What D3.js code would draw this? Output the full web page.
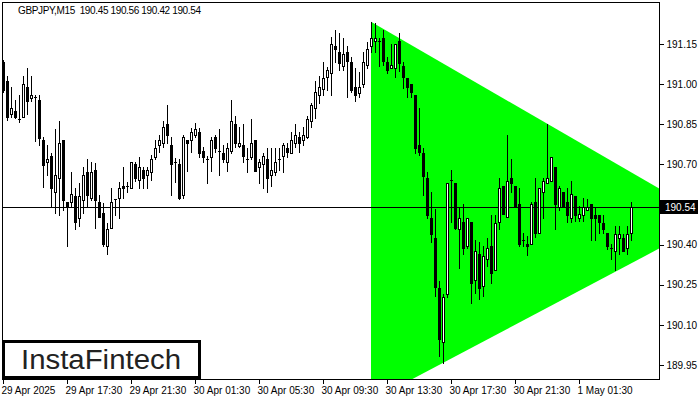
<!DOCTYPE html>
<html>
<head>
<meta charset="utf-8">
<script src="https://cdn.jsdelivr.net/npm/d3@7"></script>
<style>
html,body{margin:0;padding:0;background:#fff;}
svg{display:block;}
text{font-family:"Liberation Sans",Arial,sans-serif;}
</style>
</head>
<body>
<svg id="chart" width="700" height="400"></svg>
<script>
const symbolTitle = "GBPJPY,M15  190.45 190.56 190.42 190.54";
const opens = [
191.083,191.011,190.888,190.899,190.869,190.876,190.989,190.948,190.951,190.940,
190.790,190.708,190.730,190.595,190.648,190.790,190.558,190.558,190.580,190.498,
190.565,190.670,190.576,190.678,190.558,190.520,190.396,190.464,190.569,190.576,
190.618,190.618,190.610,190.700,190.640,190.678,190.659,190.670,190.726,190.771,
190.779,190.850,190.771,190.708,190.700,190.584,190.790,190.790,190.809,190.820,
190.749,190.719,190.726,190.801,190.749,190.741,190.708,190.749,190.850,190.768,
190.771,190.719,190.726,190.790,190.689,190.700,190.719,190.659,190.670,190.719,
190.730,190.760,190.741,190.779,190.801,190.790,190.801,190.861,190.910,190.959,
190.981,191.026,191.041,191.143,191.120,191.068,191.120,191.083,190.989,190.966,
191.000,191.071,191.143,191.161,191.161,191.173,191.083,191.060,191.060,191.161,
191.068,191.023,191.000,190.959,190.771,190.741,190.648,190.498,190.426,190.239,
190.036,190.216,190.640,190.629,190.460,190.486,190.396,190.486,190.269,190.366,
190.246,190.348,190.396,190.306,190.486,190.618,190.505,190.648,190.618,190.550,
190.419,190.404,190.404,190.558,190.445,190.595,190.629,190.636,190.689,190.539,
190.595,190.558,190.498,190.580,190.498,190.509,190.528,190.550,190.509,190.509,
190.479,190.445,190.389,190.378,190.426,190.426,190.389,190.445];
const highs = [
191.090,191.030,190.989,190.940,190.959,191.030,191.060,191.030,190.959,190.959,
190.801,190.771,190.741,190.831,190.861,190.790,190.558,190.670,190.610,190.629,
190.689,190.719,190.708,190.704,190.584,190.554,190.479,190.610,190.569,190.633,
190.689,190.633,190.708,190.708,190.726,190.689,190.689,190.734,190.790,190.809,
190.861,190.921,190.801,190.723,190.719,190.809,190.790,190.835,190.854,190.835,
190.764,190.730,190.801,190.809,190.831,190.771,190.779,190.940,190.880,190.839,
190.850,190.760,190.869,190.790,190.719,190.741,190.760,190.760,190.760,190.760,
190.779,190.779,190.820,190.850,190.820,190.839,190.880,190.929,191.011,191.030,
191.083,191.064,191.176,191.203,191.191,191.173,191.143,191.101,191.060,191.045,
191.120,191.158,191.233,191.229,191.173,191.203,191.101,191.150,191.150,191.191,
191.083,191.023,191.000,190.959,190.910,190.760,190.670,190.595,190.535,190.265,
190.216,190.629,190.678,190.629,190.539,190.550,190.498,190.486,190.419,190.408,
190.396,190.426,190.509,190.509,190.648,190.618,190.809,190.719,190.618,190.610,
190.445,190.434,190.558,190.648,190.610,190.648,190.850,190.726,190.689,190.618,
190.595,190.610,190.636,190.580,190.546,190.576,190.569,190.550,190.539,190.509,
190.509,190.445,190.404,190.468,190.468,190.438,190.468,190.558];
const lows = [
190.970,190.865,190.876,190.873,190.858,190.876,190.888,190.936,190.786,190.771,
190.614,190.659,190.539,190.520,190.509,190.528,190.396,190.539,190.460,190.468,
190.520,190.539,190.565,190.464,190.505,190.396,190.366,190.464,190.509,190.498,
190.576,190.595,190.610,190.636,190.610,190.610,190.610,190.640,190.719,190.745,
190.764,190.779,190.584,190.633,190.569,190.576,190.674,190.745,190.801,190.726,
190.708,190.629,190.674,190.745,190.659,190.708,190.674,190.741,190.764,190.764,
190.708,190.670,190.719,190.674,190.629,190.610,190.595,190.621,190.659,190.678,
190.670,190.726,190.741,190.764,190.745,190.771,190.798,190.839,190.873,190.929,
190.959,190.978,190.959,191.083,191.053,191.053,190.951,190.970,190.936,190.951,
190.989,191.060,191.120,191.120,191.068,191.071,191.041,191.060,191.026,191.049,
190.985,190.951,190.951,190.741,190.734,190.584,190.501,190.408,190.209,189.984,
189.958,190.205,190.486,190.460,190.314,190.366,190.389,190.183,190.220,190.198,
190.209,190.321,190.258,190.306,190.460,190.516,190.505,190.595,190.539,190.393,
190.393,190.363,190.404,190.430,190.445,190.498,190.629,190.636,190.460,190.528,
190.546,190.483,190.483,190.490,190.490,190.490,190.528,190.419,190.419,190.445,
190.445,190.385,190.348,190.306,190.366,190.378,190.366,190.419];
const closes = [
190.978,190.876,190.910,190.876,190.869,191.000,190.936,190.959,190.951,190.798,
190.696,190.719,190.610,190.659,190.779,190.565,190.546,190.588,190.486,190.580,
190.659,190.584,190.670,190.565,190.505,190.404,190.460,190.558,190.569,190.610,
190.610,190.618,190.708,190.648,190.689,190.648,190.678,190.719,190.760,190.790,
190.839,190.809,190.700,190.708,190.576,190.801,190.779,190.820,190.831,190.741,
190.726,190.719,190.790,190.760,190.749,190.719,190.760,190.861,190.779,190.779,
190.730,190.719,190.779,190.674,190.708,190.730,190.648,190.678,190.708,190.719,
190.771,190.745,190.790,190.809,190.779,190.809,190.869,190.921,190.970,190.989,
191.023,191.053,191.150,191.131,191.079,191.113,191.086,190.978,190.959,190.989,
191.083,191.131,191.173,191.173,191.161,191.086,191.053,191.071,191.150,191.079,
191.026,190.989,190.970,190.760,190.745,190.655,190.509,190.438,190.243,190.048,
190.205,190.629,190.640,190.464,190.498,190.389,190.498,190.258,190.378,190.239,
190.359,190.389,190.295,190.479,190.610,190.516,190.636,190.629,190.539,190.404,
190.419,190.393,190.550,190.445,190.610,190.636,190.648,190.726,190.550,190.610,
190.546,190.509,190.588,190.509,190.516,190.539,190.539,190.498,190.498,190.486,
190.460,190.396,190.389,190.438,190.438,190.378,190.438,190.539];

const priceTicks = [191.15,191.00,190.85,190.70,190.40,190.25,190.10,189.95];
const timeTickBars = [0,16,32,48,64,80,96,112,128,144];
const timeTickLabels = ["29 Apr 2025","29 Apr 17:30","29 Apr 21:30","30 Apr 01:30","30 Apr 05:30","30 Apr 09:30","30 Apr 13:30","30 Apr 17:30","30 Apr 21:30","1 May 01:30"];
const lastPrice = 190.54;
// symmetrical triangle pattern: bar index & price of its boundary lines
const triTopBars = [92,164], triTopPrices = [191.233,190.610];
const triBotBars = [110,164], triBotPrices = [189.958,190.385];

const svg = d3.select("#chart");
const L = 2.5, T = 2.5, R = 659.5, B = 379.5;
const x = d3.scaleLinear().domain([0,164]).range([3,659]);
const y = d3.scaleLinear().domain([189.95,191.15]).range([365,44]);

svg.append("defs").append("clipPath").attr("id","plotclip")
  .append("rect").attr("x",L).attr("y",T).attr("width",R-L).attr("height",B-T);

const plot = svg.append("g").attr("clip-path","url(#plotclip)");

// triangle polygon
const tx1=x(triTopBars[0]), ty1=y(triTopPrices[0]), tx2=x(triTopBars[1]), ty2=y(triTopPrices[1]);
const bx1=x(triBotBars[0]), by1=y(triBotPrices[0]), bx2=x(triBotBars[1]), by2=y(triBotPrices[1]);
const mt=(ty2-ty1)/(tx2-tx1), mb=(by2-by1)/(bx2-bx1);
const apexX = (by1 - mb*bx1 - ty1 + mt*tx1)/(mt-mb);
const apexY = ty1 + mt*(apexX-tx1);
const leftBotY = by1 + mb*(tx1-bx1);
plot.append("polygon")
  .attr("points",[[tx1,ty1],[apexX,apexY],[tx1,leftBotY]].map(p=>p.join(",")).join(" "))
  .attr("fill","#00ff00");

// last price line
plot.append("line").attr("x1",L).attr("x2",R)
  .attr("y1",Math.round(y(lastPrice))+0.5).attr("y2",Math.round(y(lastPrice))+0.5)
  .attr("stroke","#000").attr("stroke-width",1);

// candles
const bars = d3.range(opens.length).map(i=>({i,o:opens[i],h:highs[i],l:lows[i],c:closes[i]}));
const cg = plot.append("g").attr("shape-rendering","crispEdges");
bars.forEach(d=>{
  const cx = Math.round(x(d.i));
  const yh = Math.round(y(d.h)), yl = Math.round(y(d.l));
  const yo = Math.round(y(d.o)), yc = Math.round(y(d.c));
  cg.append("line").attr("x1",cx+0.5).attr("x2",cx+0.5).attr("y1",yh).attr("y2",yl+1)
    .attr("stroke","#000").attr("stroke-width",1);
  const top = Math.min(yo,yc), bot = Math.max(yo,yc);
  if (bot-top < 1) {
    cg.append("line").attr("x1",cx-1).attr("x2",cx+2).attr("y1",top+0.5).attr("y2",top+0.5)
      .attr("stroke","#000").attr("stroke-width",1);
  } else {
    cg.append("rect").attr("x",cx-0.5).attr("y",top+0.5).attr("width",2).attr("height",bot-top)
      .attr("fill", d.c>=d.o ? "#fff" : "#000").attr("stroke","#000").attr("stroke-width",1);
  }
});

// frame
svg.append("rect").attr("x",L).attr("y",T).attr("width",R-L).attr("height",B-T)
  .attr("fill","none").attr("stroke","#000").attr("stroke-width",1).attr("shape-rendering","crispEdges");

// y axis
const yAxis = d3.axisRight(y).tickValues(priceTicks).tickSize(4).tickPadding(3).tickFormat(d3.format(".2f"));
const yg = svg.append("g").attr("transform",`translate(${R},0)`).call(yAxis);
yg.select(".domain").remove();
yg.selectAll("text").attr("font-size","10px").attr("fill","#000").attr("font-family","Liberation Sans, Arial, sans-serif");
yg.selectAll("line").attr("stroke","#000").attr("shape-rendering","crispEdges");

// x axis
const xAxis = d3.axisBottom(x).tickValues(timeTickBars).tickSize(4).tickPadding(3)
  .tickFormat((d,i)=>timeTickLabels[i]);
const xg = svg.append("g").attr("transform",`translate(0,${B})`).call(xAxis);
xg.select(".domain").remove();
xg.selectAll("text").attr("text-anchor","start").attr("dx","-2").attr("font-size","10px")
  .attr("fill","#000").attr("font-family","Liberation Sans, Arial, sans-serif");
xg.selectAll("line").attr("stroke","#000").attr("shape-rendering","crispEdges");

// last price tag
const lpY = Math.round(y(lastPrice));
svg.append("rect").attr("x",660).attr("y",lpY-7).attr("width",38).attr("height",14).attr("fill","#000");
svg.append("text").attr("x",665).attr("y",lpY+4).attr("font-size","10px").attr("fill","#fff").text(d3.format(".2f")(lastPrice));

// title
svg.append("text").attr("x",18).attr("y",14).attr("font-size","10px").attr("fill","#000")
  .attr("xml:space","preserve").style("white-space","pre")
  .attr("textLength",183).attr("lengthAdjust","spacing").text(symbolTitle);

// logo
svg.append("rect").attr("x",3.5).attr("y",341.5).attr("width",196).attr("height",36)
  .attr("fill","#fff").attr("stroke","#000").attr("stroke-width",3);
svg.append("text").attr("x",101).attr("y",369).attr("text-anchor","middle")
  .attr("font-family","Lato, 'Open Sans', sans-serif").attr("font-weight",300).attr("font-size","27px").attr("fill","#222")
  .attr("textLength",160).attr("lengthAdjust","spacingAndGlyphs").text("InstaFintech");
</script>
</body>
</html>
